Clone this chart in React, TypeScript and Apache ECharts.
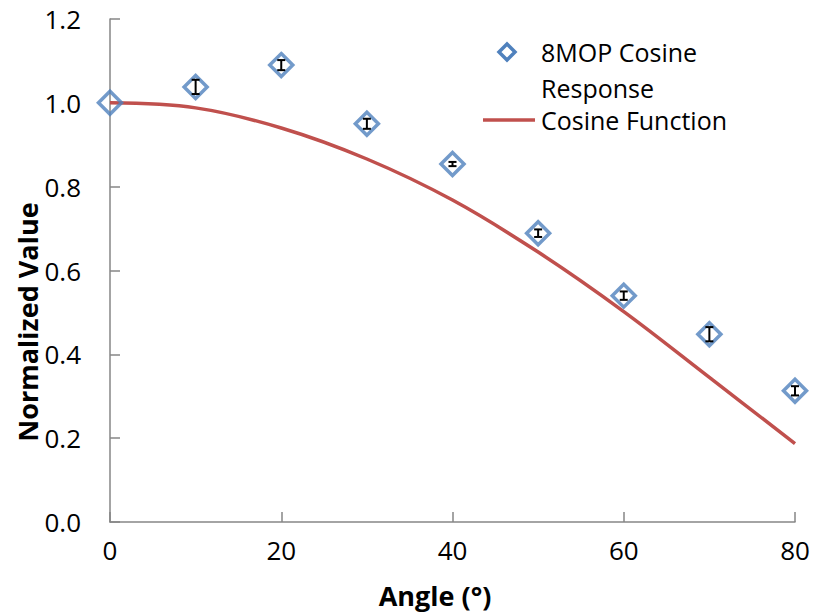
import React, { useEffect, useRef } from "react";
import * as echarts from "echarts";

const angles = [0, 10, 20, 30, 40, 50, 60, 70, 80];
const responseValues = [1.0, 1.038, 1.09, 0.95, 0.854, 0.689, 0.54, 0.448, 0.313];
const responseErrors = [0, 0.017, 0.012, 0.012, 0.005, 0.009, 0.01, 0.017, 0.011];
const cosineValues = [1.0, 0.988, 0.94, 0.866, 0.768, 0.644, 0.502, 0.345, 0.187];
const yTicks = ["0.0", "0.2", "0.4", "0.6", "0.8", "1.0", "1.2"];

const FONT = "'Open Sans', sans-serif";
const BLUE = "#4F81BD";
const RED = "#C0504D";
const AXIS = "#868686";

export default function App() {
  const ref = useRef<HTMLDivElement>(null);
  useEffect(() => {
    document.body.style.margin = "0";
    if (!ref.current) return;
    const chart = echarts.init(ref.current, undefined, { renderer: "svg" });
    const errData = angles.map((a, i) => [a, responseValues[i], responseErrors[i]]);
    chart.setOption({
      animation: false,
      backgroundColor: "#ffffff",
      grid: { left: 110, right: 18, top: 19, bottom: 91, containLabel: false },
      xAxis: {
        type: "value",
        min: 0,
        max: 80,
        interval: 20,
        axisLine: { show: true, lineStyle: { color: AXIS, width: 1.5 } },
        axisTick: { show: true, inside: true, length: 10, lineStyle: { color: AXIS, width: 1.5 } },
        splitLine: { show: false },
        axisLabel: { color: "#000", fontFamily: FONT, fontSize: 26, margin: 15 },
      },
      yAxis: {
        type: "value",
        min: 0,
        max: 1.2,
        interval: 0.2,
        axisLine: { show: true, lineStyle: { color: AXIS, width: 1.5 } },
        axisTick: { show: true, inside: true, length: 10, lineStyle: { color: AXIS, width: 1.5 } },
        splitLine: { show: false },
        axisLabel: {
          color: "#000",
          fontFamily: FONT,
          fontSize: 26,
          margin: 29,
          formatter: (v: number) => yTicks[Math.round(v / 0.2)] ?? v.toFixed(1),
        },
      },
      series: [
        {
          name: "Cosine Function",
          type: "line",
          smooth: 0.35,
          showSymbol: false,
          symbol: "none",
          data: angles.map((a, i) => [a, cosineValues[i]]),
          lineStyle: { color: RED, width: 3.5 },
          z: 2,
        },
        {
          name: "8MOP Cosine Response",
          type: "scatter",
          symbol: "diamond",
          symbolSize: 23,
          data: angles.map((a, i) => [a, responseValues[i]]),
          itemStyle: { color: "transparent", borderColor: BLUE, borderWidth: 3.5 },
          z: 3,
        },
        {
          type: "custom",
          name: "errors",
          data: errData,
          z: 4,
          renderItem: (params: any, api: any) => {
            const x = api.value(0);
            const y = api.value(1);
            const e = api.value(2);
            if (!e) return null;
            const top = api.coord([x, y + e]);
            const bot = api.coord([x, y - e]);
            const hw = 4;
            const style = { stroke: "#000", lineWidth: 2 };
            return {
              type: "group",
              children: [
                { type: "line", shape: { x1: top[0], y1: top[1], x2: bot[0], y2: bot[1] }, style },
                { type: "line", shape: { x1: top[0] - hw, y1: top[1], x2: top[0] + hw, y2: top[1] }, style },
                { type: "line", shape: { x1: bot[0] - hw, y1: bot[1], x2: bot[0] + hw, y2: bot[1] }, style },
              ],
            };
          },
        },
      ],
      graphic: [
        {
          type: "text",
          x: 27,
          y: 322,
          rotation: Math.PI / 2,
          style: {
            text: "Normalized Value",
            font: `bold 27px ${FONT}`,
            fill: "#000",
            align: "center",
            verticalAlign: "middle",
          },
        },
        {
          type: "text",
          x: 435,
          y: 595,
          style: {
            text: "Angle (°)",
            font: `bold 27px ${FONT}`,
            fill: "#000",
            align: "center",
            verticalAlign: "middle",
          },
        },
        {
          type: "polygon",
          shape: { points: [[507, 44], [515, 52], [507, 60], [499, 52]] },
          style: { fill: "none", stroke: BLUE, lineWidth: 3.5 },
        },
        {
          type: "text",
          x: 541,
          y: 52,
          style: { text: "8MOP Cosine", font: `25px ${FONT}`, fill: "#000", verticalAlign: "middle" },
        },
        {
          type: "text",
          x: 541,
          y: 88,
          style: { text: "Response", font: `25px ${FONT}`, fill: "#000", verticalAlign: "middle" },
        },
        {
          type: "line",
          shape: { x1: 483, y1: 120, x2: 535, y2: 120 },
          style: { stroke: RED, lineWidth: 3.5 },
        },
        {
          type: "text",
          x: 541,
          y: 120,
          style: { text: "Cosine Function", font: `25px ${FONT}`, fill: "#000", verticalAlign: "middle" },
        },
      ],
    });
    return () => chart.dispose();
  }, []);
  return <div ref={ref} style={{ width: 813, height: 613 }} />;
}
